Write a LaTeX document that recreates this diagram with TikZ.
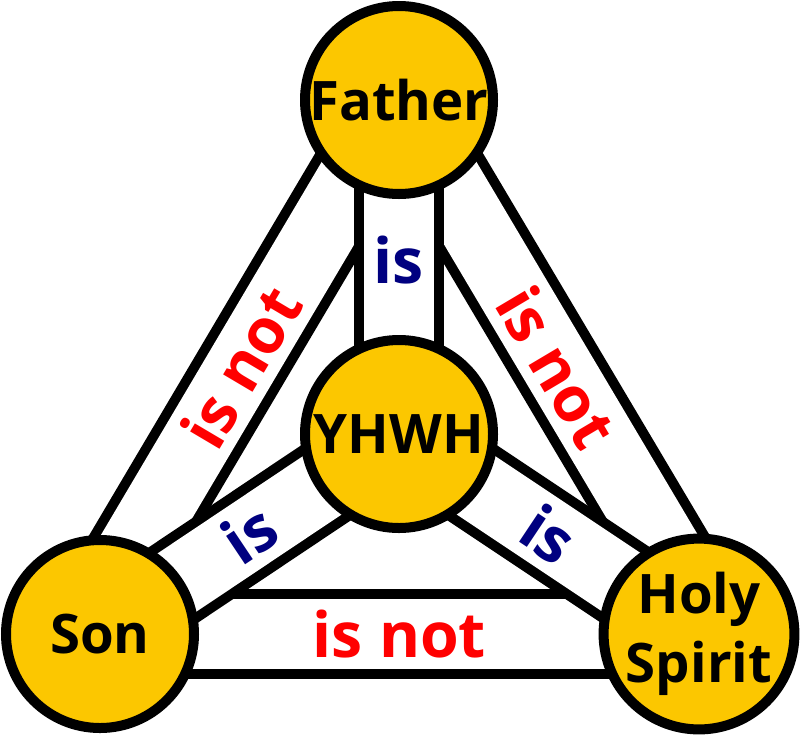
\documentclass[tikz,border=0pt]{standalone}
\usepackage{fontspec}
\setmainfont{Open Sans}
\usetikzlibrary{backgrounds}

\definecolor{gold}{RGB}{252,199,0}
\definecolor{isblue}{RGB}{0,0,128}
\definecolor{notred}{RGB}{255,0,0}

\begin{document}
\begin{tikzpicture}[
	person/.style={circle, draw, line width=0.1cm, fill=gold, inner sep=0pt,
		minimum size=1.88cm, align=center,
		font=\fontsize{15.5}{19.5}\selectfont\bfseries},
	band/.style={line width=0.1cm, double=white, double distance=0.7cm},
	islabel/.style={text=isblue, font=\fontsize{17.8}{20}\selectfont\bfseries},
	notlabel/.style={text=notred, font=\fontsize{17.8}{20}\selectfont\bfseries}]

	\useasboundingbox (0,0) rectangle (8,7.35);

	\node (father) [person] at (3.99, 6.35) {Father};
	\node (yhwh) [person] at (3.99, 3.01) {YHWH};
	\node (son) [person] at (1.00, 1.01) {Son};
	\node (spirit) [person] at (6.99, 1.01) {Holy\\Spirit};

	\begin{pgfonlayer}{background}
	% the three "is not" bands
	\draw[band] (father.center) -- node[notlabel, sloped] {is not} ([xshift=-0.17cm]son.center);
	\draw[band] (father.center) -- node[notlabel, sloped] {is not} ([xshift=0.17cm]spirit.center);
	\draw[band] (son.center) -- node[notlabel] {is not} (spirit.center);

	% the three "is" bands, over the others
	\draw[band] (father.center) -- node[islabel, pos=0.48] {is} (yhwh.center);
	\draw[band] (yhwh.center) -- node[islabel, sloped] {is} (son.center);
	\draw[band] (yhwh.center) -- node[islabel, sloped] {is} (spirit.center);
	\end{pgfonlayer}

\end{tikzpicture}
\end{document}
